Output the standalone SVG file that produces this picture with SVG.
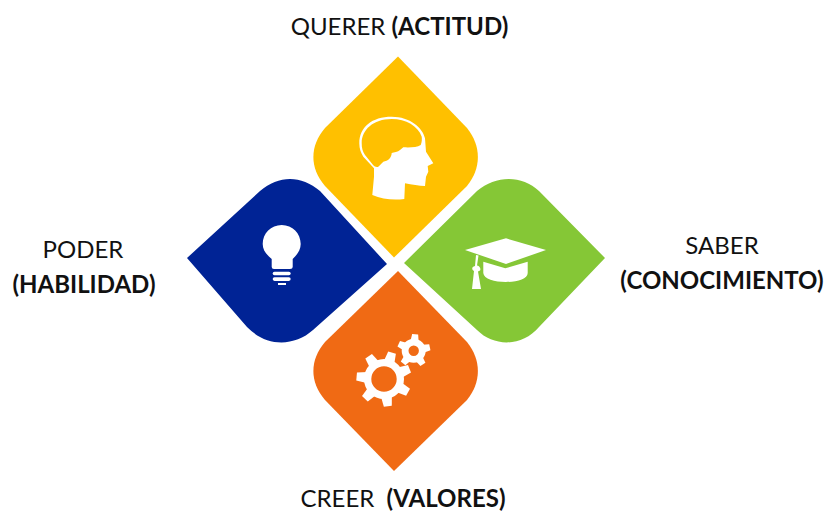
<svg xmlns="http://www.w3.org/2000/svg" xmlns:xlink="http://www.w3.org/1999/xlink" width="825" height="511" viewBox="0 0 825 511">
<style>
.t{font-family:Lato,"Liberation Sans",sans-serif;font-size:24px;fill:#111;text-anchor:middle}
.b{font-weight:700}
.i{fill:#fff}
</style>
<defs>
<path id="tooth-l" d="M-5.500 -17L-4 -27.500L4 -27.500L5.500 -17Z"/>
<path id="tooth-s" d="M-4 -10L-3 -16.500L3 -16.500L4 -10Z"/>
</defs>
<rect width="825" height="511" fill="#fff"/>
<g id="node-querer">
<path d="M398 56.500L467 128C481.500 146 481.500 168 467 186L394 257.500L325 186C309.500 168 309.500 146 325 128Z" fill="#ffc000"/>
<path class="i" fill-rule="evenodd" d="M391.700 116.700C372 116.700 359.300 127 359.300 143.300C359.300 149 361 153 363.300 156.700L374 168.300L374 176.700L372.300 195C382 199 393 200.500 404.300 199L405 183.300C412 184.500 419 186 425 186L426 176.700L428.300 171.700L427.700 166L433.300 163.300L426 151.700L425 138.300C423 128 410 116.700 391.700 116.700ZM391.700 119C373 119 361.700 130 361.700 143C361.700 148 362.500 151 365 155L371.700 163.300C374 167 377 167.500 378.300 166.700L383.300 161.700C388 161 391.500 158 391.700 153C394 152.500 398 152 400 150L403.300 147.300C410 147.500 417 147.500 420.700 145C422 142 422 139 421.700 136.700C418 126 406 119 391.700 119Z"/>
<text class="t" x="399.500" y="35">QUERER <tspan class="b">(ACTITUD)</tspan></text>
</g>
<g id="node-poder">
<path d="M187 258L260 191C279 175 301 175 320 191L387 264L313 330C294 347 266 347 247 327Z" fill="#002395"/>
<path class="i" d="M271.700 259C266 254 262.700 250 262.700 244C262.700 233.500 271 225 281.700 225C292.500 225 300.700 233.500 300.700 244C300.700 250 297 255 292.700 259L292.700 267Q292.700 269 290 269L274 269Q271.700 269 271.700 267Z"/>
<rect class="i" x="272.700" y="271.700" width="18" height="3.600" rx="1.800"/>
<rect class="i" x="272.700" y="277.300" width="18" height="3.600" rx="1.800"/>
<rect class="i" x="278" y="283" width="8" height="2"/>
<text class="t" x="83" y="258">PODER</text>
<text class="t b" x="84" y="293">(HABILIDAD)</text>
</g>
<g id="node-saber">
<path d="M404 263L477 191C496 175 522 175 539 191L605 258L539 327C522 347 494 347 477 330Z" fill="#85c736"/>
<path class="i" d="M465 250L506 238.300L546 250L506 264Z"/>
<path class="i" d="M483.300 261.700L505.300 268.300L527.700 261.700L527.700 273C527.700 285 484 285 483.300 273Z"/>
<path class="i" d="M476 255L478.500 255.500L477 265.500C480 266 481 269 480 270.500L478 271.500L481 289L472 289L474 271C472 270 471 267 475 266Z"/>
<text class="t" x="722" y="254">SABER</text>
<text class="t b" x="722" y="289">(CONOCIMIENTO)</text>
</g>
<g id="node-creer">
<path d="M398 271L467 342C481.500 360 481.500 382 467 400L394 471L325 400C309.500 382 309.500 360 325 342Z" fill="#f06a14"/>
<g class="i">
<path fill-rule="evenodd" d="M384 359A20 20 0 1 0 384 399A20 20 0 1 0 384 359ZM384 366.300A12.700 12.700 0 1 1 384 391.700A12.700 12.700 0 1 1 384 366.300Z"/>
<use href="#tooth-l" transform="translate(384 379) rotate(275)"/>
<use href="#tooth-l" transform="translate(384 379) rotate(326)"/>
<use href="#tooth-l" transform="translate(384 379) rotate(17)"/>
<use href="#tooth-l" transform="translate(384 379) rotate(68)"/>
<use href="#tooth-l" transform="translate(384 379) rotate(119)"/>
<use href="#tooth-l" transform="translate(384 379) rotate(172)"/>
<use href="#tooth-l" transform="translate(384 379) rotate(224)"/>
<path fill-rule="evenodd" d="M413.700 338.700A12 12 0 1 0 413.700 362.700A12 12 0 1 0 413.700 338.700ZM413.700 345.500A5.200 5.200 0 1 1 413.700 355.900A5.200 5.200 0 1 1 413.700 345.500Z"/>
<use href="#tooth-s" transform="translate(413.700 350.700) rotate(5)"/>
<use href="#tooth-s" transform="translate(413.700 350.700) rotate(78)"/>
<use href="#tooth-s" transform="translate(413.700 350.700) rotate(146)"/>
<use href="#tooth-s" transform="translate(413.700 350.700) rotate(220)"/>
<use href="#tooth-s" transform="translate(413.700 350.700) rotate(295)"/>
</g>
<text class="t" x="403" y="507"><tspan>CREER  </tspan><tspan class="b" dx="6">(VALORES)</tspan></text>
</g>
<g id="connectors"/>
</svg>
